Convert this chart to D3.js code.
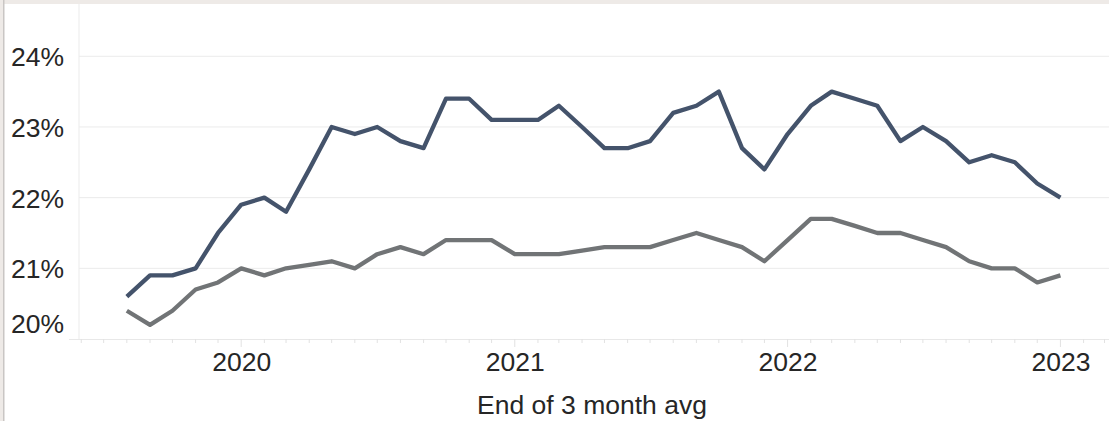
<!DOCTYPE html>
<html>
<head>
<meta charset="utf-8">
<script src="https://cdn.jsdelivr.net/npm/d3@7"></script>
<style>
  html, body { margin: 0; padding: 0; background: #ffffff; }
  svg { display: block; }
  text { font-family: "Liberation Sans", Arial, sans-serif; }
</style>
</head>
<body>
<svg id="chart" width="1109" height="421"></svg>
<script>
// ---- Data (monthly, Aug 2019 .. Jan 2023) ----
const months = [
  "2019-08","2019-09","2019-10","2019-11","2019-12",
  "2020-01","2020-02","2020-03","2020-04","2020-05","2020-06","2020-07","2020-08","2020-09","2020-10","2020-11","2020-12",
  "2021-01","2021-02","2021-03","2021-04","2021-05","2021-06","2021-07","2021-08","2021-09","2021-10","2021-11","2021-12",
  "2022-01","2022-02","2022-03","2022-04","2022-05","2022-06","2022-07","2022-08","2022-09","2022-10","2022-11","2022-12",
  "2023-01"
];
const seriesDark = [
  20.6, 20.9, 20.9, 21.0, 21.5,
  21.9, 22.0, 21.8, 22.4, 23.0, 22.9, 23.0, 22.8, 22.7, 23.4, 23.4, 23.1,
  23.1, 23.1, 23.3, 23.0, 22.7, 22.7, 22.8, 23.2, 23.3, 23.5, 22.7, 22.4,
  22.9, 23.3, 23.5, 23.4, 23.3, 22.8, 23.0, 22.8, 22.5, 22.6, 22.5, 22.2,
  22.0
];
const seriesGray = [
  20.4, 20.2, 20.4, 20.7, 20.8,
  21.0, 20.9, 21.0, 21.05, 21.1, 21.0, 21.2, 21.3, 21.2, 21.4, 21.4, 21.4,
  21.2, 21.2, 21.2, 21.25, 21.3, 21.3, 21.3, 21.4, 21.5, 21.4, 21.3, 21.1,
  21.4, 21.7, 21.7, 21.6, 21.5, 21.5, 21.4, 21.3, 21.1, 21.0, 21.0, 20.8,
  20.9
];
const yTicks = [20, 21, 22, 23, 24];
const xTickYears = ["2020", "2021", "2022", "2023"];
const xTitle = "End of 3 month avg";

// ---- Layout ----
const W = 1109, H = 421;
const plotLeft = 79, plotRight = 1109, plotTop = 4, plotBottom = 339;
const FS = 26.5;

const parse = d3.timeParse("%Y-%m");
const dates = months.map(parse);

const x = d3.scaleTime()
  .domain([new Date(2019, 4, 29), new Date(2023, 2, 7)])
  .range([plotLeft, plotRight]);
const y = d3.scaleLinear()
  .domain([20, 24.74])
  .range([plotBottom, plotTop]);

const svg = d3.select("#chart");

// frame bands (left and top)
svg.append("rect").attr("x", 0).attr("y", 0).attr("width", W).attr("height", 4).attr("fill", "#eeeae7");
svg.append("rect").attr("x", 0).attr("y", 0).attr("width", 3).attr("height", H).attr("fill", "#eeeae7");
svg.append("rect").attr("x", 3).attr("y", 0).attr("width", 1.5).attr("height", H).attr("fill", "#c9c6c4");

// horizontal gridlines
svg.append("g").selectAll("line")
  .data(yTicks.filter(d => d > 20))
  .join("line")
  .attr("x1", plotLeft).attr("x2", plotRight)
  .attr("y1", d => y(d)).attr("y2", d => y(d))
  .attr("stroke", "#ebebeb").attr("stroke-width", 1);

// left vertical plot edge
svg.append("line")
  .attr("x1", plotLeft).attr("x2", plotLeft)
  .attr("y1", plotTop).attr("y2", plotBottom)
  .attr("stroke", "#ebebeb").attr("stroke-width", 1);

// y axis labels
const yAxis = d3.axisLeft(y).tickValues(yTicks).tickSize(0).tickFormat(d => d + "%");
const gy = svg.append("g").attr("transform", `translate(${plotLeft - 15},0)`).call(yAxis);
gy.select(".domain").remove();
gy.selectAll("text")
  .attr("font-size", FS)
  .attr("fill", "#262626")
  .attr("font-family", "'Liberation Sans', Arial, sans-serif")
  .attr("dy", "0.36em")
  .attr("x", 0);
// bottom label nudged up inside the pane, as Tableau does
gy.selectAll(".tick").filter(d => d === 20)
  .attr("transform", `translate(0,${y(20) - 16})`);

// x axis: monthly minor ticks + year ticks
const monthTicks = x.ticks(d3.timeMonth.every(1));
svg.append("line")
  .attr("x1", plotLeft - 10).attr("x2", plotRight)
  .attr("y1", plotBottom + 0.5).attr("y2", plotBottom + 0.5)
  .attr("stroke", "#e8e8e8").attr("stroke-width", 1);
svg.append("g").selectAll("line")
  .data(monthTicks)
  .join("line")
  .attr("x1", d => x(d)).attr("x2", d => x(d))
  .attr("y1", plotBottom)
  .attr("y2", d => d.getMonth() === 0 ? plotBottom + 8 : plotBottom + 4)
  .attr("stroke", "#e2e2e2").attr("stroke-width", 1);

const xAxis = d3.axisBottom(x)
  .tickValues(xTickYears.map(s => new Date(+s, 0, 1)))
  .tickSize(0)
  .tickFormat(d3.timeFormat("%Y"));
const gx = svg.append("g").attr("transform", `translate(0,${plotBottom})`).call(xAxis);
gx.select(".domain").remove();
gx.selectAll("text")
  .attr("font-size", FS)
  .attr("fill", "#262626")
  .attr("font-family", "'Liberation Sans', Arial, sans-serif")
  .attr("y", 32)
  .attr("dy", 0);

// x axis title
svg.append("text")
  .attr("x", (plotLeft + plotRight) / 2 - 2)
  .attr("y", 414)
  .attr("text-anchor", "middle")
  .attr("font-size", FS)
  .attr("fill", "#262626")
  .text(xTitle);

// lines
const line = d3.line()
  .x((d, i) => x(dates[i]))
  .y(d => y(d));

svg.append("path")
  .datum(seriesGray)
  .attr("fill", "none")
  .attr("stroke", "#717476")
  .attr("stroke-width", 4.3)
  .attr("stroke-linejoin", "round")
  .attr("d", line);

svg.append("path")
  .datum(seriesDark)
  .attr("fill", "none")
  .attr("stroke", "#44536b")
  .attr("stroke-width", 4.3)
  .attr("stroke-linejoin", "round")
  .attr("d", line);
</script>
</body>
</html>
